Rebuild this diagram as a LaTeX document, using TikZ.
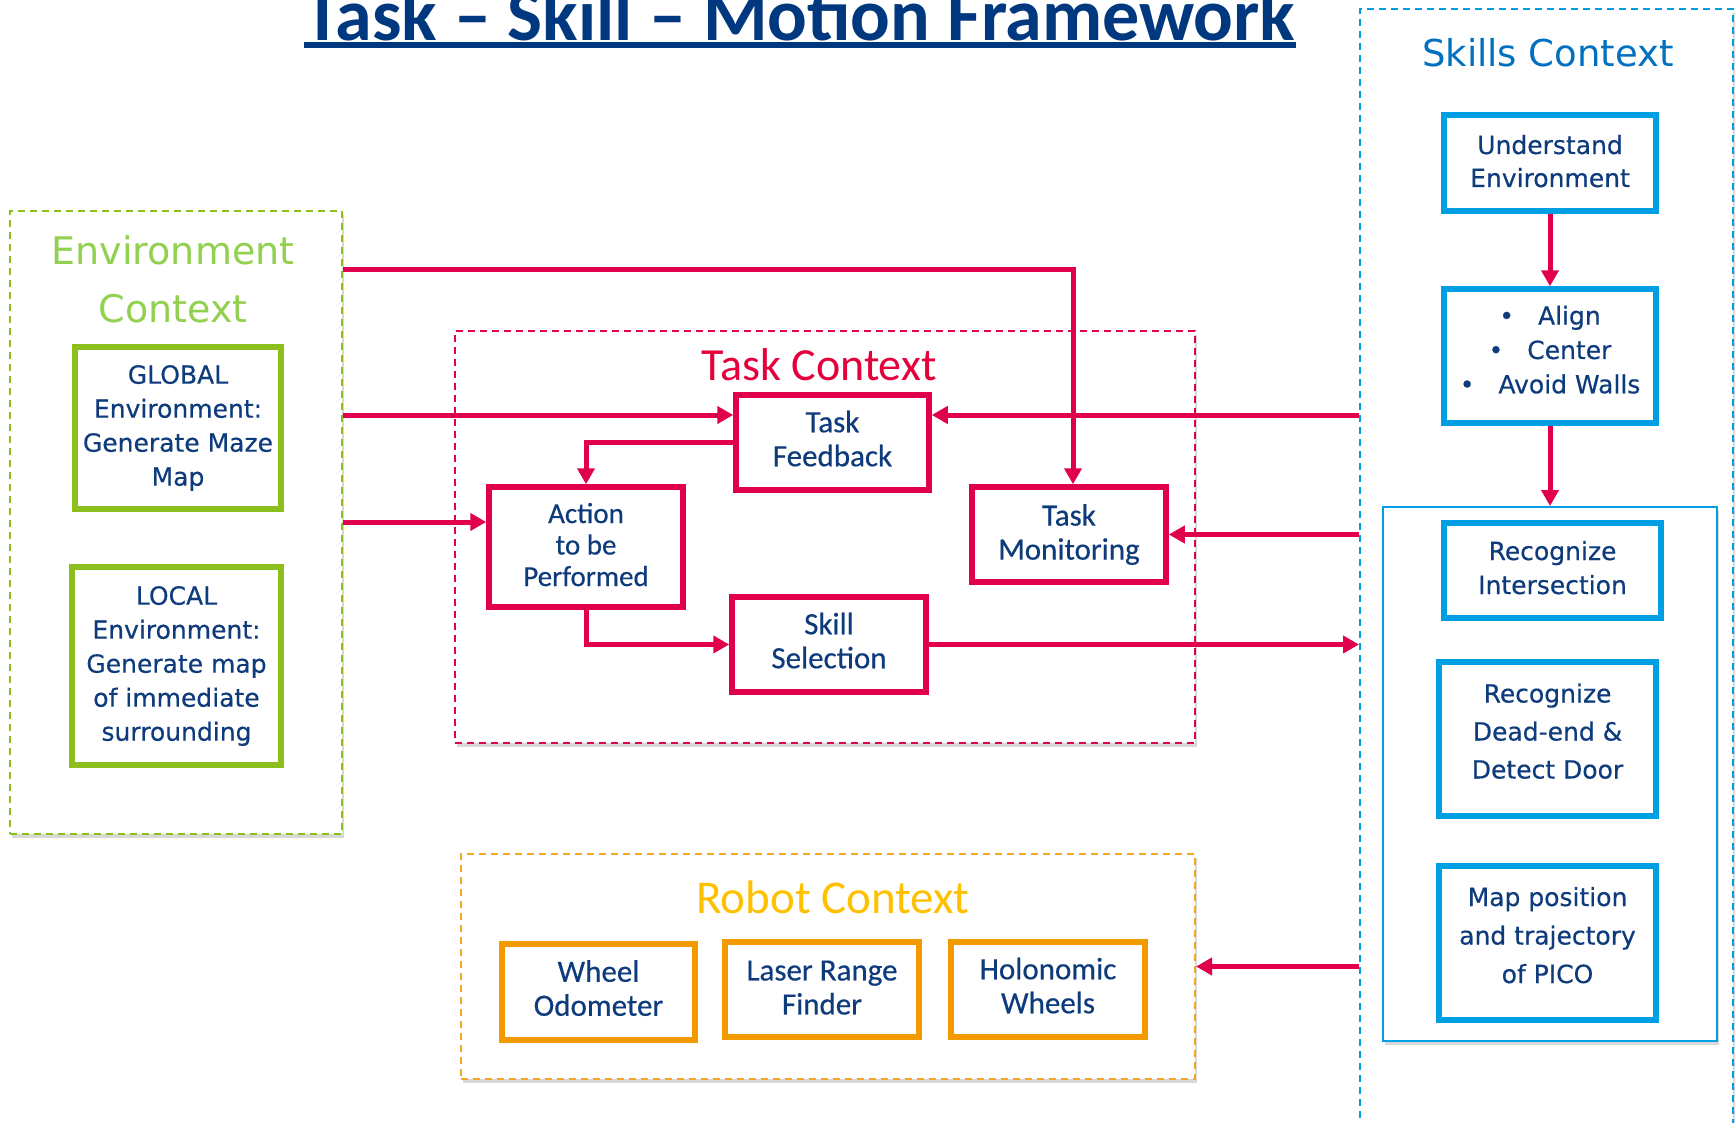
\documentclass[tikz,border=0pt]{standalone}
\usepackage{fontspec}
\setmainfont{Carlito}
\newfontfamily\dvfont[FakeBold=0.4]{DejaVu Sans}
\newfontfamily\dvtitle{DejaVu Sans}
\newfontfamily\calfont[FakeBold=0.4]{Carlito}
\newfontfamily\caltitle{Carlito}
\newcommand{\dropdepth}[1]{\rule[-#1]{0pt}{#1}}
\usetikzlibrary{arrows.meta,calc,shadows}
\definecolor{txt}{HTML}{0E3B7C}
\definecolor{ttl}{HTML}{00387F}
\definecolor{ared}{HTML}{E0004D}
\definecolor{tred}{HTML}{E4003A}
\definecolor{ggreen}{HTML}{8CBF1E}
\definecolor{egreen}{HTML}{92D050}
\definecolor{sblue}{HTML}{009FE3}
\definecolor{stitle}{HTML}{0070C0}
\definecolor{oorange}{HTML}{F39A00}
\definecolor{odash}{HTML}{F5A623}
\definecolor{gold}{HTML}{FFC000}
\begin{document}
\begin{tikzpicture}[x=1pt,y=-1pt,
  ctx/.style={dash pattern=on 7pt off 5pt, line width=2pt, fill=white, inner sep=0pt,
    drop shadow={shadow xshift=2pt, shadow yshift=-4pt, opacity=0.25, fill=black!60}},
  boxbase/.style={line width=5.5pt, fill=white, text=txt, align=center, inner sep=0pt},
  tbox/.style={boxbase, draw=ared, font=\calfont\fontsize{31}{34}\selectfont, minimum width=194pt, minimum height=95pt},
  gbox/.style={boxbase, draw=ggreen, font=\dvfont\fontsize{25}{34}\selectfont},
  sbox/.style={boxbase, draw=sblue, font=\dvfont\fontsize{25}{33}\selectfont},
  obox/.style={boxbase, draw=oorange, font=\calfont\fontsize{31}{34}\selectfont, minimum width=194pt, minimum height=95pt},
  arr/.style={draw=ared, line width=5pt, -{Triangle[length=16pt,width=17pt]}}
]
\useasboundingbox (0,0) rectangle (1736,1123);
\fill[white] (0,0) rectangle (1736,1123);

% title
\node[anchor=base, text=ttl, font=\caltitle\bfseries\fontsize{74}{74}\selectfont, inner sep=0pt] (title) at (800,41) {Task – Skill – Motion Framework};
\draw[ttl, line width=5.5pt] (title.base west |- 0,45) coordinate (ul1) -- (title.base east |- 0,45) coordinate (ul2);

% context frames
\node[ctx, draw=ggreen, minimum width=332pt, minimum height=623pt] (env) at (176,522.5) {};
\node[ctx, draw=ared, minimum width=740pt, minimum height=412pt] (task) at (825,537) {};
\node[ctx, draw=odash, minimum width=734pt, minimum height=225pt] (robot) at (828,966.5) {};
\node[ctx, draw=sblue, minimum width=373pt, minimum height=1140pt] (skills) at (1546.5,579) {};
\node[draw=sblue, line width=2pt, fill=white, inner sep=0pt, minimum width=334pt, minimum height=534pt,
  drop shadow={shadow xshift=2pt, shadow yshift=-4pt, opacity=0.25, fill=black!60}] (inner) at (1550,774) {};

% context titles
\node[text=egreen, font=\dvtitle\fontsize{38}{58}\selectfont, align=center, inner sep=0pt] (envt) at (173,279) {Environment\\Context};
\node[text=tred, font=\caltitle\fontsize{46}{46}\selectfont, inner sep=0pt] (taskt) at (819,365) {Task Context};
\node[text=gold, font=\caltitle\fontsize{47}{47}\selectfont, inner sep=0pt] (robott) at (833,897) {Robot Context};
\node[text=stitle, font=\dvtitle\fontsize{37}{37}\selectfont, inner sep=0pt] (skillst) at (1548,53) {Skills Context};

% environment boxes
\node[gbox, minimum width=206pt, minimum height=162pt] (glob) at (178,428) {GLOBAL\\Environment:\\Generate Maze\\Map};
\node[gbox, minimum width=209pt, minimum height=198pt] (loc) at (176.5,666) {LOCAL\\Environment:\\Generate map\\of immediate\\surrounding};

% task boxes
\node[tbox, minimum width=193pt] (fb) at (832.5,442.5) {Task\\Feedback\dropdepth{8pt}};
\node[tbox, minimum height=120pt, font=\calfont\fontsize{29}{31.5}\selectfont] (act) at (586,547) {Action\\to be\\Performed\dropdepth{5pt}};
\node[tbox] (mon) at (1069,534.5) {Task\\Monitoring};
\node[tbox] (sel) at (829,644.5) {Skill\\Selection\dropdepth{8pt}};

% robot boxes
\node[obox, minimum width=193pt, minimum height=96pt] (odo) at (598.5,992) {Wheel\\Odometer\dropdepth{8pt}};
\node[obox] (laser) at (822,989.5) {Laser Range\\Finder\dropdepth{4pt}};
\node[obox] (holo) at (1048,989.5) {Holonomic\\Wheels\dropdepth{8pt}};

% skills boxes
\node[sbox, minimum width=212pt, minimum height=96pt] (und) at (1550,163) {Understand\\Environment\dropdepth{4pt}};
\node[sbox, minimum width=212pt, minimum height=134pt, font=\dvfont\fontsize{25}{34.3}\selectfont] (align) at (1550,356)
  {\textbullet\hspace{24pt}Align\\\textbullet\hspace{24pt}Center\\\textbullet\hspace{24pt}Avoid Walls\dropdepth{13pt}};
\node[sbox, minimum width=217pt, minimum height=95pt, font=\dvfont\fontsize{25}{34}\selectfont] (inter) at (1552.5,570.5) {Recognize\\Intersection\dropdepth{6pt}};
\node[sbox, minimum width=217pt, minimum height=154pt, font=\dvfont\fontsize{25}{38}\selectfont] (dead) at (1547.5,739) {Recognize\\Dead-end \&\\Detect Door\dropdepth{16pt}};
\node[sbox, minimum width=217pt, minimum height=154pt, font=\dvfont\fontsize{25}{38.5}\selectfont] (mapp) at (1547.5,943) {Map position\\and trajectory\\of PICO\dropdepth{16pt}};

% connectors
\draw[arr] (env.east |- 0,269) -| ([xshift=4pt]mon.north);
\draw[arr] (env.east |- 0,415) -- (fb.west |- 0,415);
\draw[arr] (env.east |- 0,522) -- (act.west |- 0,522);
\draw[arr] (fb.west) -| (act.north);
\draw[arr] (act.south) |- (sel.west);
\draw[arr] (skills.west |- 0,415) -- (fb.east |- 0,415);
\draw[arr] (skills.west |- mon.east) -- (mon.east);
\draw[arr] (sel.east) -- (skills.west |- sel.east);
\draw[arr] (skills.west |- robot.east) -- (robot.east);
\draw[arr] (und) -- (align);
\draw[arr] (align) -- (inner);
\end{tikzpicture}
\end{document}
